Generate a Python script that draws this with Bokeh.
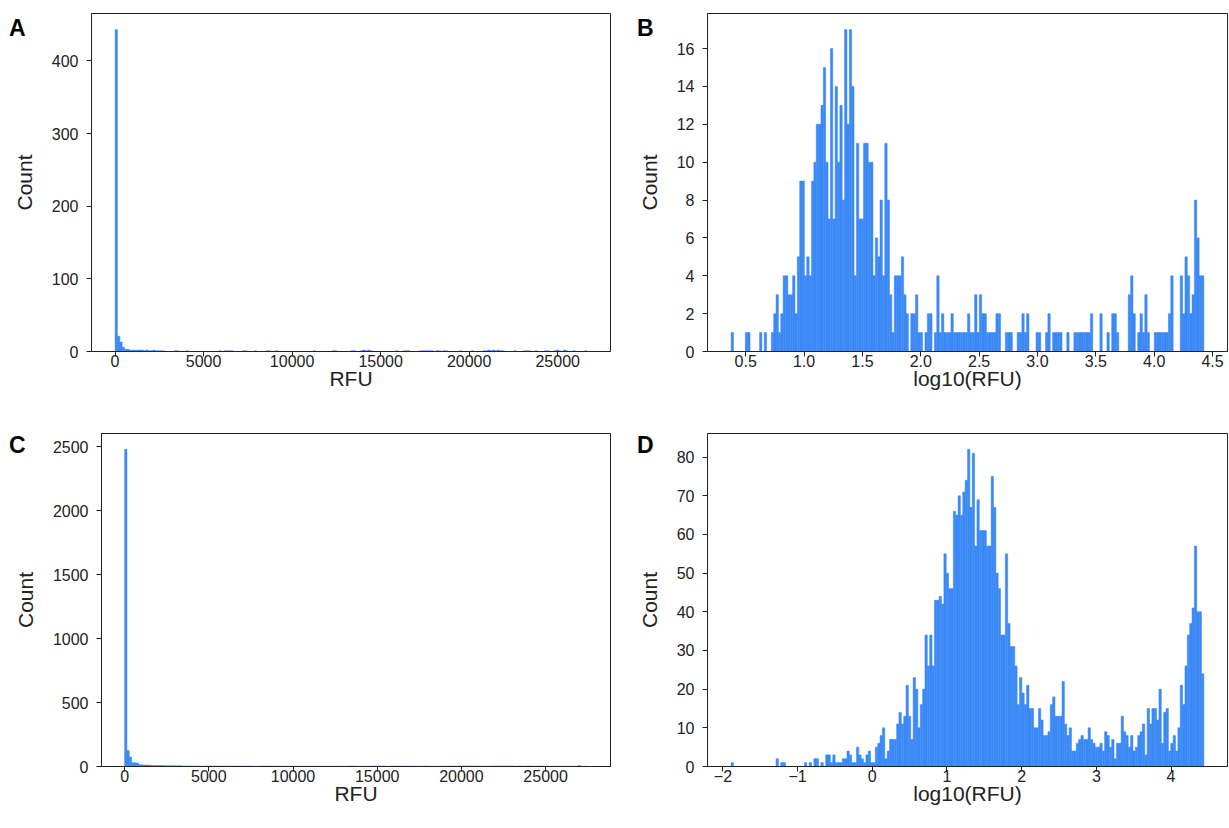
import numpy as np
from bokeh.plotting import figure
from bokeh.layouts import column, row
from bokeh.models import (FixedTicker, PrintfTickFormatter, Range1d, LinearAxis,
                          CustomJSTickFormatter)
from bokeh.embed import file_html
from bokeh.resources import INLINE

# ---------------- data (histogram counts, 200 equal bins each) ----------------
# Panel A: RFU, bins spanning A_lo..A_hi
A_lo, A_hi = 2.4, 26650.0
A_counts = [
    443, 21, 13, 6, 3, 3, 2, 2, 2, 2, 2, 2, 1, 2, 1, 1, 2, 1, 1, 1,
    1, 0, 0, 0, 0, 1, 1, 0, 0, 0, 1, 0, 0, 0, 0, 0, 0, 0, 0, 0,
    0, 0, 0, 0, 1, 0, 1, 1, 1, 1, 0, 0, 0, 0, 1, 1, 0, 0, 0, 1,
    0, 0, 0, 0, 1, 1, 0, 0, 1, 0, 0, 0, 0, 0, 0, 0, 0, 0, 0, 0,
    0, 0, 0, 0, 1, 0, 0, 0, 0, 0, 0, 0, 1, 1, 0, 0, 0, 0, 0, 0,
    1, 1, 0, 0, 1, 2, 1, 2, 1, 0, 0, 0, 0, 0, 0, 0, 0, 0, 0, 1,
    0, 0, 1, 1, 1, 0, 0, 0, 0, 1, 1, 1, 1, 1, 1, 0, 1, 1, 0, 1,
    1, 0, 0, 0, 0, 0, 1, 0, 0, 0, 0, 1, 0, 0, 0, 0, 1, 1, 2, 1,
    2, 1, 2, 1, 1, 0, 0, 0, 0, 1, 0, 0, 0, 1, 1, 1, 0, 0, 1, 0,
    0, 0, 1, 1, 0, 0, 1, 2, 1, 0, 2, 1, 0, 0, 1, 0, 0, 0, 0, 1,
]

# Panel B: log10(RFU)
B_lo, B_hi = 0.375, 4.4257
B_counts = [
    1, 0, 0, 0, 0, 0, 1, 1, 0, 0, 0, 0, 1, 0, 1, 0, 0, 1, 2, 3,
    1, 2, 4, 4, 3, 3, 4, 2, 5, 9, 9, 4, 5, 4, 9, 10, 12, 12, 13, 15,
    10, 7, 16, 7, 14, 10, 13, 8, 17, 12, 17, 14, 4, 11, 7, 7, 11, 11, 10, 10,
    4, 6, 5, 8, 4, 11, 8, 3, 1, 4, 4, 4, 5, 3, 2, 0, 2, 2, 3, 1,
    1, 0, 1, 2, 2, 0, 1, 4, 1, 2, 1, 1, 1, 2, 1, 1, 1, 1, 1, 1,
    2, 1, 1, 3, 1, 3, 2, 2, 1, 1, 1, 1, 2, 2, 0, 0, 1, 1, 1, 0,
    0, 1, 1, 2, 1, 2, 0, 0, 0, 1, 1, 0, 0, 1, 2, 0, 1, 1, 1, 1,
    0, 0, 1, 0, 0, 1, 1, 1, 1, 1, 1, 1, 2, 0, 0, 0, 2, 0, 0, 1,
    0, 2, 2, 1, 0, 0, 0, 0, 3, 4, 2, 0, 1, 2, 1, 3, 1, 0, 0, 1,
    1, 1, 1, 1, 1, 2, 4, 0, 0, 0, 4, 2, 5, 4, 2, 3, 8, 6, 4, 4,
]

# Panel C: RFU
C_lo, C_hi = 0.013, 27480.0
C_counts = [
    2480, 125, 75, 30, 29, 27, 14, 13, 12, 12, 11, 9, 8, 8, 7, 7, 7, 6, 6, 6,
    5, 5, 5, 5, 5, 4, 4, 4, 4, 3, 4, 4, 3, 2, 2, 4, 4, 3, 3, 4,
    3, 3, 3, 4, 4, 3, 3, 3, 4, 3, 3, 3, 4, 3, 3, 2, 1, 2, 2, 4,
    3, 4, 3, 3, 3, 1, 2, 1, 1, 2, 1, 1, 2, 1, 1, 2, 1, 1, 1, 2,
    1, 1, 2, 1, 1, 1, 2, 1, 1, 1, 2, 1, 1, 2, 1, 1, 3, 3, 3, 3,
    1, 1, 1, 1, 1, 1, 3, 3, 3, 3, 3, 3, 3, 1, 1, 3, 3, 3, 3, 3,
    3, 3, 3, 3, 2, 2, 2, 2, 2, 3, 3, 3, 1, 1, 1, 1, 1, 3, 3, 3,
    3, 3, 3, 2, 4, 4, 4, 4, 4, 4, 4, 4, 4, 2, 2, 2, 2, 2, 4, 4,
    4, 4, 4, 4, 4, 4, 4, 4, 2, 2, 4, 4, 2, 2, 4, 4, 2, 2, 2, 4,
    4, 1, 2, 1, 2, 1, 2, 1, 2, 1, 2, 1, 2, 1, 1, 2, 8, 1, 1, 2,
]

# Panel D: log10(RFU)
D_lo, D_hi = -1.89, 4.439
D_counts = [
    1, 0, 0, 0, 0, 0, 0, 0, 0, 0, 0, 0, 0, 0, 0, 0, 0, 0, 0, 2,
    0, 1, 1, 0, 0, 0, 0, 0, 0, 0, 0, 1, 0, 1, 0, 2, 2, 0, 1, 0,
    3, 3, 1, 3, 1, 1, 1, 2, 2, 4, 3, 1, 1, 5, 3, 2, 1, 3, 4, 1,
    1, 5, 6, 8, 10, 2, 4, 7, 7, 7, 11, 14, 11, 13, 21, 13, 7, 23, 20, 10,
    16, 20, 34, 26, 34, 26, 43, 43, 44, 42, 55, 50, 46, 46, 66, 65, 70, 65, 71, 74,
    82, 67, 81, 57, 69, 61, 61, 61, 57, 57, 75, 67, 50, 46, 34, 34, 55, 37, 31, 31,
    26, 16, 23, 19, 16, 21, 15, 15, 10, 10, 15, 12, 8, 8, 9, 16, 18, 13, 13, 13,
    22, 11, 8, 10, 4, 4, 6, 7, 8, 7, 7, 10, 7, 6, 5, 5, 6, 4, 9, 8,
    5, 7, 2, 6, 6, 13, 9, 8, 5, 8, 4, 5, 8, 9, 11, 3, 15, 11, 15, 15,
    12, 20, 6, 14, 15, 4, 6, 8, 4, 10, 21, 16, 26, 34, 37, 41, 57, 40, 40, 24,
]

RFU_ticks = [0, 5000, 10000, 15000, 20000, 25000]
A_yticks = [0, 100, 200, 300, 400]
B_xticks = [0.5, 1.0, 1.5, 2.0, 2.5, 3.0, 3.5, 4.0, 4.5]
B_yticks = [0, 2, 4, 6, 8, 10, 12, 14, 16]
C_yticks = [0, 500, 1000, 1500, 2000, 2500]
D_xticks = [-2, -1, 0, 1, 2, 3, 4]
D_yticks = [0, 10, 20, 30, 40, 50, 60, 70, 80]

BLUE = "#3b89f5"
INK = "#222222"
FONT = "Liberation Sans"


def panel(counts, lo, hi, xticks, yticks, xlabel, letter, w, h, bl, br, bt, bb,
          letter_frac, letter_standoff, xfmt=None):
    counts = np.asarray(counts, dtype=float)
    n = len(counts)
    edges = np.linspace(lo, hi, n + 1)
    span = hi - lo
    ymax = 1.05 * counts.max()
    p = figure(width=w, height=h, output_backend="svg", toolbar_location=None,
               x_range=Range1d(lo - 0.05 * span, hi + 0.05 * span),
               y_range=Range1d(0, ymax),
               min_border_left=bl, min_border_right=br,
               min_border_top=bt, min_border_bottom=bb)
    keep = counts > 0
    p.quad(left=edges[:-1][keep], right=edges[1:][keep], bottom=0, top=counts[keep],
           fill_color=BLUE, line_color=BLUE, line_width=0.5)
    p.grid.visible = False
    p.outline_line_color = INK
    p.outline_line_width = 1
    p.background_fill_color = "white"
    p.border_fill_color = "white"
    for ax, ticks in ((p.xaxis, xticks), (p.yaxis, yticks)):
        ax.ticker = FixedTicker(ticks=ticks, minor_ticks=[])
        ax.major_tick_out = 5
        ax.major_tick_in = 0
        ax.minor_tick_out = 0
        ax.minor_tick_in = 0
        ax.axis_line_color = INK
        ax.major_tick_line_color = INK
        ax.major_label_text_font = FONT
        ax.major_label_text_font_size = "16px"
        ax.major_label_text_color = INK
        ax.axis_label_text_font = FONT
        ax.axis_label_text_font_size = "21px"
        ax.axis_label_text_font_style = "normal"
        ax.axis_label_text_color = INK
    p.xaxis.major_label_standoff = -2
    p.xaxis.axis_label_standoff = -3
    p.yaxis.major_label_standoff = 8
    p.yaxis.axis_label_standoff = 13
    p.xaxis.axis_label = xlabel
    p.yaxis.axis_label = "Count"
    if xfmt:
        p.xaxis.formatter = PrintfTickFormatter(format=xfmt)
    # panel letter: an outer, line-less left axis carrying a single bold label
    lax = LinearAxis(ticker=FixedTicker(ticks=[letter_frac * ymax], minor_ticks=[]),
                     formatter=CustomJSTickFormatter(code="return '%s'" % letter),
                     axis_line_color=None, major_tick_line_color=None,
                     minor_tick_line_color=None, major_tick_out=0, major_tick_in=0,
                     minor_tick_out=0, major_label_standoff=letter_standoff,
                     major_label_text_font=FONT, major_label_text_font_size="23px",
                     major_label_text_font_style="bold", major_label_text_color="black")
    p.add_layout(lax, "left")
    return p


# Row 1: frames at y 13..351 ; Row 2: frames at y 433..766
pA = panel(A_counts, A_lo, A_hi, RFU_ticks, A_yticks, "RFU", "A",
           630, 406, 91, 20, 13, 55, (351 - 27) / 338, -16)
pB = panel(B_counts, B_lo, B_hi, B_xticks, B_yticks, "log10(RFU)", "B",
           599, 406, 77, 2, 13, 55, (351 - 27) / 338, -19, xfmt="%.1f")
pC = panel(C_counts, C_lo, C_hi, RFU_ticks, C_yticks, "RFU", "C",
           630, 416, 101, 20, 27, 56, (766 - 444) / 333, -15)
pD = panel(D_counts, D_lo, D_hi, D_xticks, D_yticks, "log10(RFU)", "D",
           599, 416, 77, 2, 27, 56, (766 - 444) / 333, -19)

layout = column(row(pA, pB), row(pC, pD))
open("out.html", "w").write(file_html(layout, INLINE))
